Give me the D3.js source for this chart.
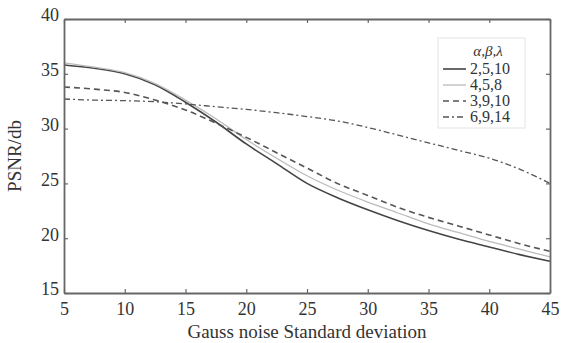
<!DOCTYPE html>
<html>
<head>
    <script src="https://d3js.org/d3.v7.min.js"></script>
    <style>
        body { margin: 0; background: #fff; }
        text { font-family: "Liberation Serif", "Times New Roman", serif; fill: #333; }
    </style>
</head>
<body>
    <svg width="561" height="343"></svg>

    <script>
        const svg = d3.select("svg"),
              margin = { top: 19, right: 11, bottom: 50, left: 64 },
              width = 561 - margin.left - margin.right,
              height = 343 - margin.top - margin.bottom;

        // Data
        const sigma = [5, 7.5, 10, 12.5, 15, 17.5, 20, 22.5, 25, 27.5, 30, 32.5, 35, 37.5, 40, 42.5, 45];
        const psnr_2_5_10 = [35.8, 35.5, 35.0, 34.0, 32.4, 30.6, 28.6, 26.8, 25.0, 23.7, 22.6, 21.6, 20.7, 19.9, 19.2, 18.5, 17.9];
        const psnr_4_5_8  = [36.0, 35.6, 35.1, 34.1, 32.6, 30.9, 29.0, 27.3, 25.7, 24.4, 23.3, 22.3, 21.3, 20.5, 19.7, 19.0, 18.3];
        const psnr_3_9_10 = [33.8, 33.6, 33.3, 32.6, 31.7, 30.5, 29.2, 27.8, 26.4, 25.0, 23.9, 22.8, 21.9, 21.1, 20.3, 19.5, 18.8];
        const psnr_6_9_14 = [32.7, 32.6, 32.55, 32.45, 32.25, 32.0, 31.75, 31.45, 31.1, 30.7, 30.1, 29.4, 28.7, 28.0, 27.3, 26.3, 25.0];
        const seriesNames = ["2,5,10", "4,5,8", "3,9,10", "6,9,14"];
        const xTicks = [5, 10, 15, 20, 25, 30, 35, 40, 45];
        const yTicks = [15, 20, 25, 30, 35, 40];

        const styles = [
            { color: "#444", width: 1.6, dash: null },
            { color: "#bbb", width: 1.3, dash: null },
            { color: "#555", width: 1.6, dash: "6,4" },
            { color: "#555", width: 1.3, dash: "6,3,2,3" }
        ];
        const series = [psnr_2_5_10, psnr_4_5_8, psnr_3_9_10, psnr_6_9_14];

        const x = d3.scaleLinear().domain([5, 45]).range([0, width]);
        const y = d3.scaleLinear().domain([15, 40]).range([height, 0]);

        const g = svg.append("g").attr("transform", `translate(${margin.left},${margin.top})`);

        // Curves
        const line = d3.line()
            .x((d, i) => x(sigma[i]))
            .y(d => y(d))
            .curve(d3.curveMonotoneX);

        series.forEach((s, k) => {
            g.append("path")
                .datum(s)
                .attr("fill", "none")
                .attr("stroke", styles[k].color)
                .attr("stroke-width", styles[k].width)
                .attr("stroke-dasharray", styles[k].dash)
                .attr("d", line);
        });

        // Axes: MATLAB-style box with inward ticks on all sides
        const axisStyle = sel => {
            sel.select(".domain").attr("stroke", "#666").attr("stroke-width", 1.8);
            sel.selectAll(".tick line").attr("stroke", "#666").attr("stroke-width", 1.2);
            sel.selectAll("text").attr("fill", "#333")
                .style("font-family", '"Liberation Serif", serif').style("font-size", "18px");
        };

        g.append("g")
            .attr("transform", `translate(0,${height})`)
            .call(d3.axisBottom(x).tickValues(xTicks).tickSize(-4).tickPadding(9).tickSizeOuter(0))
            .call(axisStyle);
        g.append("g")
            .call(d3.axisTop(x).tickValues(xTicks).tickSize(-4).tickFormat("").tickSizeOuter(0))
            .call(axisStyle);
        g.append("g")
            .call(d3.axisLeft(y).tickValues(yTicks).tickSize(-4).tickPadding(5).tickSizeOuter(0))
            .call(axisStyle)
            .selectAll(".tick text").attr("dy", "0.1em");
        g.append("g")
            .attr("transform", `translate(${width},0)`)
            .call(d3.axisRight(y).tickValues(yTicks).tickSize(-4).tickFormat("").tickSizeOuter(0))
            .call(axisStyle);

        // Axis titles
        svg.append("text")
            .attr("x", margin.left + width / 2)
            .attr("y", 338)
            .attr("text-anchor", "middle")
            .style("font-size", "19px")
            .text("Gauss noise Standard deviation");

        svg.append("text")
            .attr("transform", `translate(21,${margin.top + height / 2}) rotate(-90)`)
            .attr("text-anchor", "middle")
            .style("font-size", "19px")
            .text("PSNR/db");

        // Legend
        const legend = svg.append("g").attr("transform", "translate(438,38)");
        legend.append("rect")
            .attr("width", 87).attr("height", 90)
            .attr("fill", "#fff").attr("stroke", "#e4e4e4");
        legend.append("text")
            .attr("x", 50).attr("y", 18)
            .attr("text-anchor", "middle")
            .style("font-size", "15px").style("font-style", "italic")
            .text("α,β,λ");
        seriesNames.forEach((name, k) => {
            const ly = 31 + k * 16;
            legend.append("line")
                .attr("x1", 5).attr("x2", 28).attr("y1", ly).attr("y2", ly)
                .attr("stroke", styles[k].color)
                .attr("stroke-width", styles[k].width)
                .attr("stroke-dasharray", styles[k].dash);
            legend.append("text")
                .attr("x", 32).attr("y", ly + 5)
                .style("font-size", "16px")
                .text(name);
        });
    </script>
</body>
</html>
